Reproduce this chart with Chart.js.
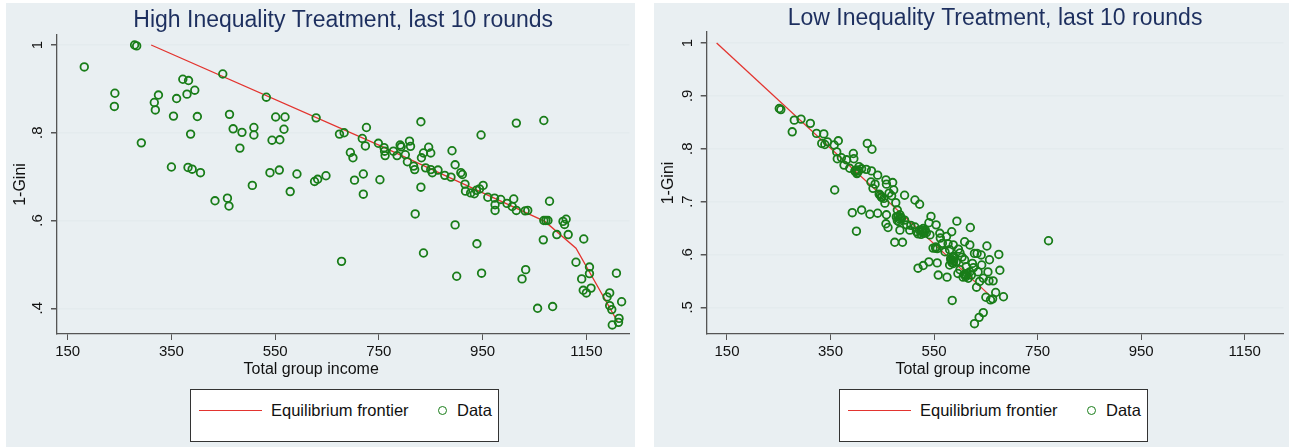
<!DOCTYPE html>
<html>
<head>
<meta charset="utf-8">
<script src="https://cdn.jsdelivr.net/npm/chart.js@4"></script>
<style>
  body { margin: 0; width: 1289px; height: 447px; background: #fff; position: relative; overflow: hidden;
         font-family: "Liberation Sans", Arial, sans-serif; }
  .panel { position: absolute; top: 3px; height: 444px; background: #e9eff2; }
  .panel canvas { position: absolute; left: 0; top: 0; }
  .legend { position: absolute; top: 386px; width: 309px; height: 53px; background: #fff;
            border: 1.5px solid #333; box-sizing: border-box; font-size: 16.5px; color: #111; }
  .legend .ln { position: absolute; left: 8px; top: 20px; width: 63px; border-top: 1.5px solid #e3342f; }
  .legend .mk { position: absolute; left: 247px; top: 16px; width: 7px; height: 7px; border: 1.8px solid #197d19; border-radius: 50%; }
  .legend .t1 { position: absolute; left: 80px; top: 11px; }
  .legend .t2 { position: absolute; left: 266px; top: 11px; }
</style>
</head>
<body>
<div class="panel" style="left:6px;width:629px"><canvas id="hiChart" width="629" height="444"></canvas>
  <div class="legend" style="left:184px"><span class="ln"></span><span class="t1">Equilibrium frontier</span><span class="mk"></span><span class="t2">Data</span></div>
</div>
<div class="panel" style="left:654px;width:635px"><canvas id="loChart" width="635" height="444"></canvas>
  <div class="legend" style="left:185px"><span class="ln"></span><span class="t1">Equilibrium frontier</span><span class="mk"></span><span class="t2">Data</span></div>
</div>
<script>
const xTicks = [150, 350, 550, 750, 950, 1150];
const hiYTicks = [0.4, 0.6, 0.8, 1];
const loYTicks = [0.5, 0.6, 0.7, 0.8, 0.9, 1];

// High inequality treatment
const hiIncome = [279, 283, 182, 241, 240, 292, 317, 319, 325, 354, 350, 372, 383, 360, 380, 395, 400, 387, 382, 390,
  406, 449, 434, 458, 461, 462, 469, 486, 482, 506, 509, 509, 533, 551, 569, 567, 544, 559, 540, 558,
  579, 592, 626, 632, 648, 629, 674, 683, 678, 695, 700, 703, 718, 724, 726, 720, 720, 749, 752, 760,
  762, 761, 778, 785, 791, 793, 801, 809, 811, 805, 817, 819, 831, 832, 836, 846, 850, 831, 820, 836,
  840, 850, 853, 864, 877, 889, 891, 897, 908, 911, 897, 900, 916, 917, 927, 934, 938, 944, 951, 939,
  947, 948, 960, 973, 974, 974, 985, 997, 1007, 1010, 1015, 1015, 1032, 1037, 1026, 1033, 1056, 1068, 1068, 1072,
  1076, 1067, 1079, 1085, 1105, 1111, 1108, 1093, 1115, 1145, 1130, 1141, 1156, 1156, 1144, 1150, 1159, 1190, 1195, 1195,
  1199, 1208, 1218, 1213, 1212, 1200];
const hiGini = [1.0, 0.998, 0.950, 0.890, 0.860, 0.777, 0.869, 0.852, 0.886, 0.838, 0.722, 0.922, 0.919, 0.878, 0.888, 0.897, 0.837, 0.797, 0.721, 0.717,
  0.709, 0.934, 0.645, 0.651, 0.633, 0.842, 0.809, 0.801, 0.765, 0.680, 0.812, 0.795, 0.881, 0.836, 0.836, 0.808, 0.783, 0.784, 0.709, 0.715,
  0.666, 0.706, 0.689, 0.694, 0.702, 0.834, 0.797, 0.800, 0.507, 0.755, 0.743, 0.692, 0.787, 0.770, 0.812, 0.706, 0.660, 0.776, 0.693, 0.766,
  0.748, 0.758, 0.758, 0.748, 0.772, 0.768, 0.750, 0.781, 0.769, 0.734, 0.724, 0.716, 0.825, 0.743, 0.754, 0.767, 0.754, 0.676, 0.615, 0.526,
  0.720, 0.716, 0.709, 0.715, 0.703, 0.699, 0.759, 0.727, 0.709, 0.705, 0.590, 0.473, 0.683, 0.667, 0.663, 0.661, 0.669, 0.672, 0.680, 0.547,
  0.795, 0.480, 0.653, 0.651, 0.623, 0.636, 0.648, 0.639, 0.632, 0.649, 0.623, 0.822, 0.622, 0.623, 0.467, 0.488, 0.400, 0.828, 0.600, 0.600,
  0.600, 0.556, 0.644, 0.404, 0.598, 0.603, 0.591, 0.568, 0.568, 0.558, 0.505, 0.467, 0.494, 0.479, 0.441, 0.435, 0.446, 0.426, 0.435, 0.406,
  0.397, 0.480, 0.415, 0.377, 0.368, 0.362];
const hiFrontierIncome = [311, 750, 1070, 1130, 1210];
const hiFrontierGini = [1.0, 0.772, 0.598, 0.537, 0.370];

// Low inequality treatment
const loIncome = [251, 254, 280, 293, 276, 311, 323, 337, 333, 339, 344, 365, 357, 362, 363, 371, 381, 376, 394, 395,
  421, 430, 387, 397, 400, 402, 405, 410, 419, 429, 441, 428, 436, 432, 457, 458, 470, 358, 448, 453,
  463, 468, 455, 476, 493, 513, 522, 479, 484, 477, 487, 493, 482, 392, 410, 426, 441, 400, 458, 457,
  461, 474, 489, 484, 497, 503, 513, 516, 519, 526, 529, 522, 535, 544, 554, 542, 548, 553, 561, 562,
  584, 594, 620, 574, 577, 587, 580, 609, 619, 600, 588, 583, 587, 593, 580, 519, 529, 540, 556, 558,
  575, 596, 600, 609, 612, 619, 624, 628, 633, 641, 652, 675, 677, 612, 616, 622, 635, 638, 632, 645,
  654, 656, 664, 650, 659, 663, 669, 684, 585, 628, 637, 645, 771,
  398, 401, 404, 446, 449, 444, 480, 483, 486, 479, 528, 531, 525, 533, 553, 556, 582, 586, 584, 588,
  608, 611, 614, 606, 472, 505, 540, 566, 571, 597, 604, 626, 642, 657];
const loGini = [0.876, 0.874, 0.854, 0.856, 0.832, 0.848, 0.829, 0.828, 0.810, 0.808, 0.813, 0.815, 0.807, 0.794, 0.781, 0.783, 0.779, 0.769, 0.791, 0.781,
  0.810, 0.799, 0.763, 0.758, 0.760, 0.755, 0.766, 0.762, 0.761, 0.758, 0.750, 0.737, 0.733, 0.725, 0.741, 0.733, 0.736, 0.722, 0.709, 0.706,
  0.716, 0.711, 0.697, 0.698, 0.712, 0.703, 0.695, 0.684, 0.675, 0.671, 0.668, 0.665, 0.662, 0.679, 0.684, 0.676, 0.678, 0.644, 0.675, 0.658,
  0.651, 0.623, 0.623, 0.646, 0.656, 0.646, 0.652, 0.643, 0.639, 0.643, 0.649, 0.646, 0.641, 0.672, 0.656, 0.637, 0.612, 0.612, 0.640, 0.631,
  0.643, 0.663, 0.651, 0.634, 0.620, 0.618, 0.609, 0.624, 0.618, 0.603, 0.596, 0.589, 0.583, 0.586, 0.580, 0.574, 0.579, 0.586, 0.584, 0.561,
  0.557, 0.564, 0.571, 0.590, 0.577, 0.567, 0.583, 0.602, 0.602, 0.599, 0.616, 0.600, 0.570, 0.561, 0.555, 0.561, 0.567, 0.549, 0.538, 0.555,
  0.567, 0.550, 0.550, 0.519, 0.514, 0.516, 0.528, 0.520, 0.513, 0.469, 0.481, 0.490, 0.626,
  0.757, 0.753, 0.759, 0.712, 0.708, 0.714, 0.672, 0.667, 0.670, 0.664, 0.645, 0.640, 0.638, 0.646, 0.614, 0.611, 0.592, 0.594, 0.585, 0.588,
  0.562, 0.558, 0.564, 0.557, 0.722, 0.655, 0.660, 0.621, 0.605, 0.610, 0.595, 0.575, 0.580, 0.590];
const loFrontierIncome = [130, 657];
const loFrontierGini = [1.0, 0.523];

Chart.defaults.font.family = '"Liberation Sans", Arial, sans-serif';
Chart.defaults.color = '#111';

const fmtGini = v => (v === 1 ? '1' : String(+v.toFixed(1)).replace(/^0/, ''));

const stataText = {
  id: 'stataText',
  afterDraw(chart, args, opts) {
    const { ctx, chartArea, scales } = chart;
    const y = scales.y;
    ctx.save();
    ctx.fillStyle = '#111';
    ctx.textAlign = 'center';
    ctx.textBaseline = 'middle';
    ctx.font = '15px "Liberation Sans", Arial, sans-serif';
    y.ticks.forEach(t => {
      ctx.save();
      ctx.translate(opts.yLabelX, y.getPixelForValue(t.value));
      ctx.rotate(-Math.PI / 2);
      ctx.fillText(fmtGini(t.value), 0, 0);
      ctx.restore();
    });
    ctx.font = '16px "Liberation Sans", Arial, sans-serif';
    ctx.fillText('Total group income', (chartArea.left + chartArea.right) / 2 - 32, opts.xTitleY);
    ctx.restore();
  }
};

function makeChart(canvasId, title, income, gini, frontX, frontY, xr, yr, yTicks, box) {
  const pts = income.map((v, i) => ({ x: v, y: gini[i] }));
  const front = frontX.map((v, i) => ({ x: v, y: frontY[i] }));
  return new Chart(document.getElementById(canvasId), {
    type: 'scatter',
    data: {
      datasets: [
        { label: 'Data', data: pts, pointStyle: 'circle', pointRadius: 3.8, pointBorderWidth: 1.8,
          borderColor: '#197d19', backgroundColor: 'rgba(0,0,0,0)', pointHoverRadius: 3.8 },
        { label: 'Equilibrium frontier', type: 'line', data: front, showLine: true, pointRadius: 0,
          borderColor: '#e3342f', borderWidth: 1.3, tension: 0, fill: false }
      ]
    },
    options: {
      responsive: false,
      animation: false,
      devicePixelRatio: 1,
      layout: { padding: { left: 0, right: box.right, top: 0, bottom: 66 } },
      plugins: {
        legend: { display: false },
        tooltip: { enabled: false },
        title: { display: true, text: title, color: '#1d2f5f', fullSize: false,
                 font: { size: 23, weight: 'normal' }, padding: { top: box.titleTop, bottom: box.titleBottom } },
        stataText: { yLabelX: box.yLabelX, xTitleY: 367 }
      },
      scales: {
        x: {
          type: 'linear', min: xr[0], max: xr[1],
          afterBuildTicks: s => { s.ticks = xTicks.map(v => ({ value: v })); },
          afterFit: s => { s.height = 47; },
          ticks: { font: { size: 15 }, color: '#111', padding: 3, callback: v => String(v) },
          grid: { drawOnChartArea: false, drawTicks: true, tickLength: 6, tickColor: '#555' },
          border: { display: true, color: '#555', width: 1.3 }
        },
        y: {
          type: 'linear', min: yr[0], max: yr[1],
          afterBuildTicks: s => { s.ticks = yTicks.map(v => ({ value: v })); },
          afterFit: s => { s.width = box.yWidth; },
          ticks: { display: false },
          title: { display: true, text: '1-Gini', font: { size: 16 }, color: '#111', padding: { top: 5, bottom: 0 } },
          grid: { color: '#e4ebee', lineWidth: 1.5, drawTicks: true, tickLength: 6, tickColor: '#555' },
          border: { display: true, color: '#555', width: 1.3 }
        }
      }
    },
    plugins: [stataText]
  });
}

makeChart('hiChart', 'High Inequality Treatment, last 10 rounds', hiIncome, hiGini, hiFrontierIncome, hiFrontierGini,
  [129.4, 1233], [0.3414, 1.0228], hiYTicks,
  { right: 4, titleTop: 4, titleBottom: 0.4, yWidth: 51, yLabelX: 32 });
makeChart('loChart', 'Low Inequality Treatment, last 10 rounds', loIncome, loGini, loFrontierIncome, loFrontierGini,
  [110.8, 1224.7], [0.4495, 1.0208], loYTicks,
  { right: 5, titleTop: 2, titleBottom: -0.6, yWidth: 52.7, yLabelX: 34 });
</script>
</body>
</html>
